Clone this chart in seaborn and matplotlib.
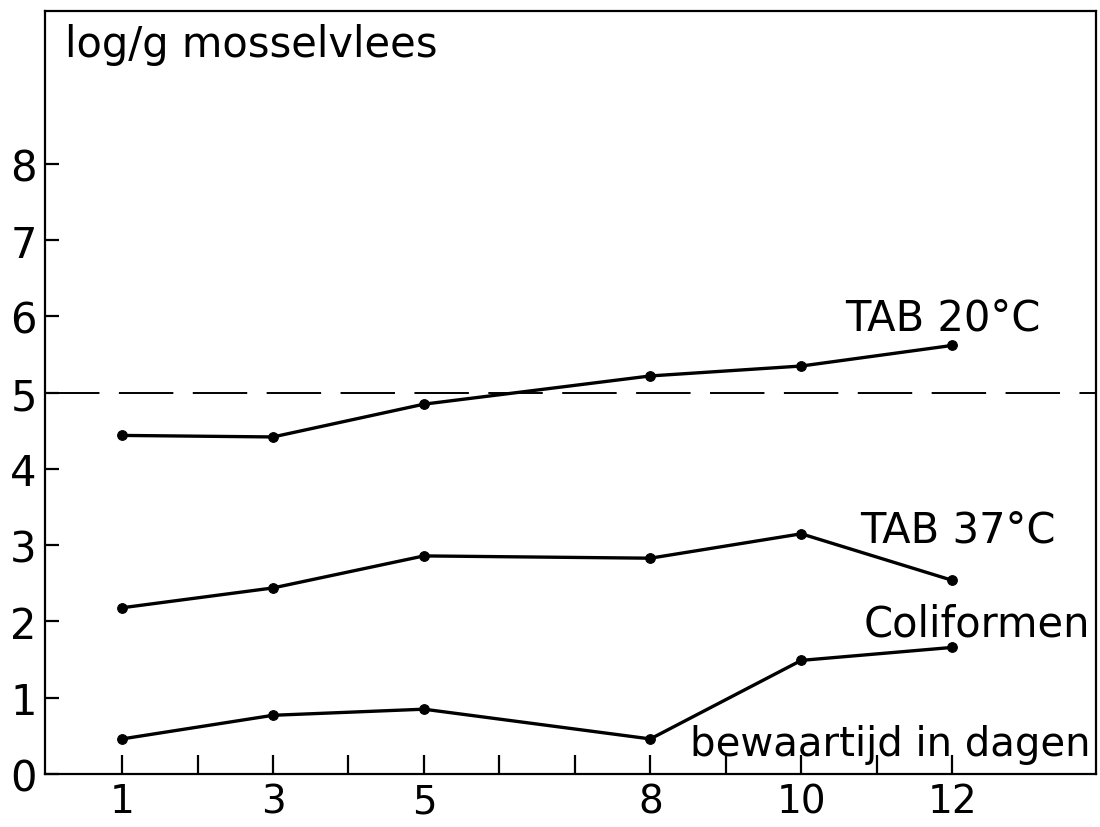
import pandas as pd
import seaborn as sns
import matplotlib.pyplot as plt
from matplotlib.ticker import FixedLocator

days = [1, 3, 5, 8, 10, 12]
tab20 = [4.44, 4.42, 4.85, 5.22, 5.35, 5.62]
tab37 = [2.18, 2.44, 2.86, 2.83, 3.15, 2.54]
coliformen = [0.46, 0.77, 0.85, 0.46, 1.49, 1.66]
grens = 5.0
y_ticks = [0, 1, 2, 3, 4, 5, 6, 7, 8]
x_minor = [1, 2, 3, 4, 5, 6, 7, 8, 9, 10, 11, 12]

df = pd.DataFrame({"dag": days * 3,
                   "waarde": tab20 + tab37 + coliformen,
                   "reeks": ["TAB 20°C"] * 6 + ["TAB 37°C"] * 6 + ["Coliformen"] * 6})

sns.set_theme(style="white", rc={"axes.edgecolor": "black", "axes.linewidth": 1.6,
                                 "text.color": "black", "xtick.color": "black",
                                 "ytick.color": "black"})
plt.rcParams["font.family"] = ["DejaVu Sans"]

fig = plt.figure(figsize=(11, 8.28), dpi=100)
ax = fig.add_axes([0.041, 0.064, 0.955, 0.921])

for naam in ["TAB 20°C", "TAB 37°C", "Coliformen"]:
    sns.lineplot(data=df[df["reeks"] == naam], x="dag", y="waarde", ax=ax,
                 color="black", linewidth=2.4, marker="o", markersize=7,
                 markeredgecolor="black", legend=False)

ax.axhline(grens, color="black", linewidth=1.4, linestyle=(0, (28, 10)))

ax.set_xlim(-0.02, 13.9)
ax.set_ylim(0, 10)
ax.set_xticks(days)
ax.xaxis.set_minor_locator(FixedLocator(x_minor))
ax.set_yticks(y_ticks)
ax.tick_params(axis="x", which="both", direction="in", length=14, width=1.6,
               labelsize=28, pad=6, bottom=True)
ax.tick_params(axis="y", direction="in", length=10, width=1.6, labelsize=30,
               pad=6, left=True)
ax.set_xlabel("")
ax.set_ylabel("")

ax.text(0.25, 9.57, "log/g mosselvlees", fontsize=30, va="center", ha="left")
ax.text(13.17, 5.99, "TAB 20°C", fontsize=30, va="center", ha="right")
ax.text(13.37, 3.21, "TAB 37°C", fontsize=30, va="center", ha="right")
ax.text(13.83, 1.97, "Coliformen", fontsize=30, va="center", ha="right")
ax.text(13.83, 0.39, "bewaartijd in dagen", fontsize=29, va="center", ha="right")

fig.savefig("out.png", dpi=100)
